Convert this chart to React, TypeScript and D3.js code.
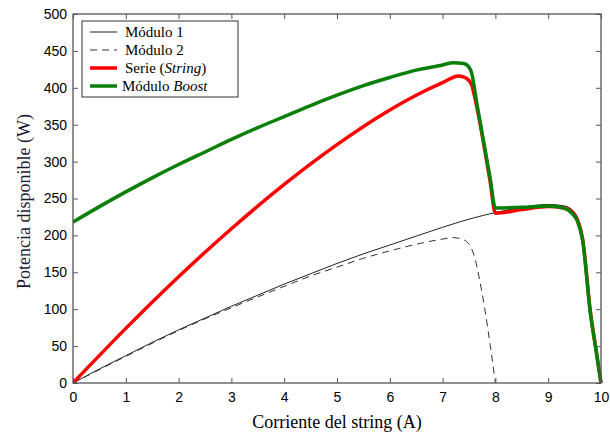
import React, { useEffect, useRef } from "react";
import * as d3 from "d3";

// corriente del string (A) y potencia (W)
const m1I = [0, 0.5, 1, 1.5, 2, 2.5, 3, 3.5, 4, 4.5, 5, 5.5, 6, 6.5, 7, 7.5, 8, 8.5, 9, 9.3, 9.45, 9.55, 9.65, 9.8, 9.9, 10];
const m1P = [0, 19, 37, 55, 72, 88, 104, 119, 134, 148, 162, 175, 187, 199, 211, 222, 231, 238, 242, 240, 235, 225, 201, 98, 50, 0];

const m2I = [0, 1, 2, 3, 4, 4.5, 5, 5.5, 6, 6.5, 7, 7.2, 7.4, 7.5, 7.6, 7.7, 7.8, 7.9, 8];
const m2P = [0, 36, 71, 102, 131, 145, 157, 169, 179, 188, 195, 197, 194, 188, 172, 140, 100, 52, 0];

const serieI = [0, 1, 2, 3, 4, 5, 6, 6.5, 7, 7.3, 7.45, 7.55, 7.6, 7.7, 7.8, 7.9, 8, 8.5, 9, 9.3, 9.45, 9.55, 9.65, 9.8, 9.9, 10];
const serieP = [0, 74, 144, 209, 269, 323, 370, 390, 407, 416, 413, 404, 390, 355, 315, 273, 230, 235, 239, 237, 232, 222, 196, 96, 48, 0];

const boostI = [0, 0.5, 1, 1.5, 2, 2.5, 3, 3.5, 4, 4.5, 5, 5.5, 6, 6.5, 7, 7.2, 7.4, 7.5, 7.55, 7.65, 7.8, 7.9, 8, 8.5, 9, 9.3, 9.45, 9.55, 9.65, 9.8, 9.9, 10];
const boostP = [218, 239, 259, 278, 296, 313, 330, 346, 361, 376, 390, 403, 414, 424, 431, 434, 433, 428, 420, 378, 318, 278, 237, 238, 240, 237, 230, 220, 194, 94, 47, 0];

const xTicks = [0, 1, 2, 3, 4, 5, 6, 7, 8, 9, 10];
const yTicks = [0, 50, 100, 150, 200, 250, 300, 350, 400, 450, 500];

const series = [
  { name: "Módulo 1", italic: "", I: m1I, P: m1P, color: "#222", width: 1, dash: "" },
  { name: "Módulo 2", italic: "", I: m2I, P: m2P, color: "#333", width: 1, dash: "7,5" },
  { name: "Serie (", italic: "String", I: serieI, P: serieP, color: "#ff0000", width: 3.5, dash: "" },
  { name: "Módulo ", italic: "Boost", I: boostI, P: boostP, color: "#0a7f0a", width: 3.5, dash: "" },
];

const W = 610;
const H = 434;
const left = 73;
const right = 601;
const top = 14;
const bottom = 383;

export default function App() {
  const gx = useRef<SVGGElement>(null);
  const gy = useRef<SVGGElement>(null);
  const gt = useRef<SVGGElement>(null);
  const gr = useRef<SVGGElement>(null);

  const x = d3.scaleLinear().domain([0, 10]).range([left, right]);
  const y = d3.scaleLinear().domain([0, 500]).range([bottom, top]);

  useEffect(() => {
    const fmt = (g: any) => {
      g.select(".domain").remove();
      g.selectAll(".tick line").attr("stroke", "#555").attr("stroke-width", 1);
      g.selectAll(".tick text")
        .attr("fill", "#000")
        .style("font-family", "'Liberation Sans', Arial, sans-serif")
        .style("font-size", "14px");
    };
    d3.select(gx.current).call(d3.axisBottom(x).tickValues(xTicks).tickSize(-5).tickPadding(9).tickFormat(d3.format("d")) as any).call(fmt);
    d3.select(gy.current).call(d3.axisLeft(y).tickValues(yTicks).tickSize(-5).tickPadding(6).tickFormat(d3.format("d")) as any).call(fmt);
    d3.select(gt.current).call(d3.axisTop(x).tickValues(xTicks).tickSize(-5).tickFormat(() => "") as any).call(fmt);
    d3.select(gr.current).call(d3.axisRight(y).tickValues(yTicks).tickSize(-5).tickFormat(() => "") as any).call(fmt);
  }, []);

  const line = d3
    .line<number>()
    .x((d) => x(d))
    .curve(d3.curveMonotoneX);

  const pathOf = (I: number[], P: number[]) =>
    line.y((_d, i) => y(P[i]))(I) || "";

  const legY = [32, 50, 68, 86];

  return (
    <div style={{ position: "absolute", left: 0, top: 0 }}>
      <svg width={W} height={H} style={{ display: "block", background: "#fff" }}>
        <defs>
          <clipPath id="plot">
            <rect x={left} y={top} width={right - left + 2} height={bottom - top + 1} />
          </clipPath>
        </defs>
        <g clipPath="url(#plot)">
          {series.map((s) => (
            <path
              key={s.name + s.italic}
              d={pathOf(s.I, s.P)}
              fill="none"
              stroke={s.color}
              strokeWidth={s.width}
              strokeDasharray={s.dash || undefined}
              strokeLinejoin="round"
            />
          ))}
        </g>
        <g ref={gx} transform={`translate(0,${bottom})`} />
        <g ref={gy} transform={`translate(${left},0)`} />
        <g ref={gt} transform={`translate(0,${top})`} />
        <g ref={gr} transform={`translate(${right},0)`} />
        <rect x={left} y={top} width={right - left} height={bottom - top} fill="none" stroke="#555" strokeWidth={1.3} />

        <g>
          <rect x={82} y={21} width={156} height={76} fill="#fff" stroke="#333" strokeWidth={1} />
          {series.map((s, i) => (
            <g key={"leg" + i}>
              <line x1={90} x2={117} y1={legY[i]} y2={legY[i]} stroke={s.color} strokeWidth={s.width} strokeDasharray={s.dash || undefined} />
              <text
                x={i === 3 ? 122 : 125}
                y={legY[i]}
                dy="0.33em"
                style={{ fontFamily: "'Liberation Serif', 'Times New Roman', serif", fontSize: "15px" }}
                fill="#000"
              >
                {s.name}
                {s.italic && <tspan fontStyle="italic">{s.italic}</tspan>}
                {i === 2 ? ")" : ""}
              </text>
            </g>
          ))}
        </g>

        <text
          x={337}
          y={422}
          dy="0.33em"
          textAnchor="middle"
          style={{ fontFamily: "'Liberation Serif', 'Times New Roman', serif", fontSize: "18px" }}
          fill="#000"
        >
          Corriente del string (A)
        </text>
        <text
          transform={`translate(24,${(top + bottom) / 2 + 3}) rotate(-90)`}
          dy="0.33em"
          textAnchor="middle"
          style={{ fontFamily: "'Liberation Serif', 'Times New Roman', serif", fontSize: "18px" }}
          fill="#1a1a33"
        >
          Potencia disponible (W)
        </text>
      </svg>
    </div>
  );
}
